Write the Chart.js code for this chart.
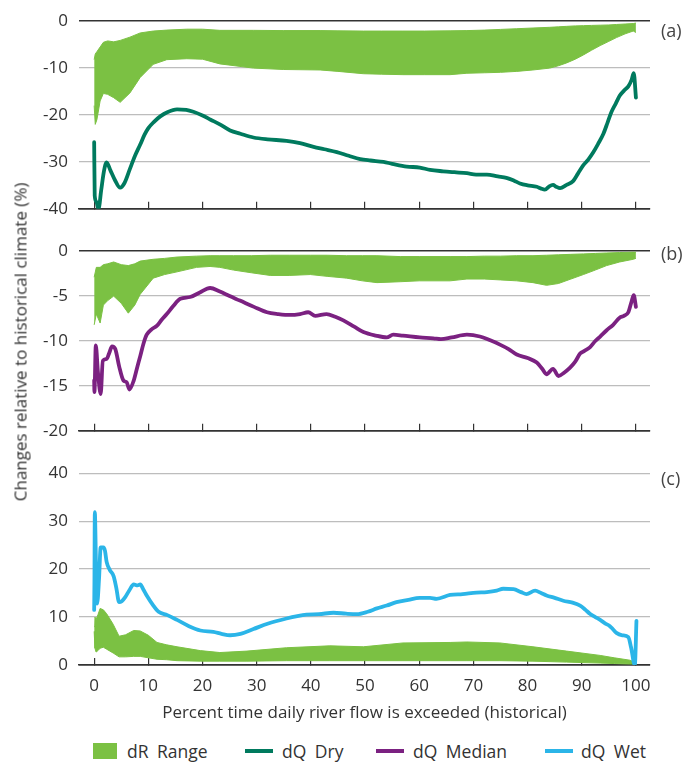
<!DOCTYPE html>
<html>
<head>
<meta charset="utf-8">
<script src="https://cdn.jsdelivr.net/npm/chart.js@4/dist/chart.umd.min.js"></script>
<style>
  html, body { margin: 0; padding: 0; background: #fff; }
  body { width: 686px; height: 762px; position: relative; overflow: hidden; font-family: 'Open Sans', 'Noto Sans', sans-serif; color: #333; }
  canvas { position: absolute; left: 0; display: block; }
  .tag { position: absolute; left: 661px; font-size: 18px; line-height: 20px; color: #444; }
  #ytitle { position: absolute; left: 20px; top: 342px; transform: translate(-50%, -50%) rotate(-90deg); white-space: nowrap; font-size: 17px; }
  .leg { position: absolute; top: 740px; font-size: 17.5px; line-height: 22px; word-spacing: 4px; white-space: nowrap; }
  .swatch { position: absolute; top: 743px; left: 93px; width: 24px; height: 16px; background: #7bc143; }
  .mark { position: absolute; top: 749px; height: 4px; width: 28px; }
</style>
</head>
<body>
<canvas id="chartA" width="686" height="230" style="top:0"></canvas>
<canvas id="chartB" width="686" height="222" style="top:230px"></canvas>
<canvas id="chartC" width="686" height="280" style="top:452px"></canvas>

<div class="tag" style="top:20px">(a)</div>
<div class="tag" style="top:243px">(b)</div>
<div class="tag" style="top:468px">(c)</div>
<div id="ytitle">Changes relative to historical climate (%)</div>

<div class="swatch"></div>
<div class="leg" style="left:127px">dR Range</div>
<div class="mark" style="left:245px; background:#007a5e"></div>
<div class="leg" style="left:282px">dQ Dry</div>
<div class="mark" style="left:376px; background:#7b2181"></div>
<div class="leg" style="left:413px">dQ Median</div>
<div class="mark" style="left:545px; background:#2bb5e8"></div>
<div class="leg" style="left:581px">dQ Wet</div>

<script>
// tick labels
const xTicks = [0, 10, 20, 30, 40, 50, 60, 70, 80, 90, 100];
const yTicksA = [-40, -30, -20, -10, 0];
const yTicksB = [-20, -15, -10, -5, 0];
const yTicksC = [0, 10, 20, 30, 40];

// (a) dQ Dry
const dryX = [0, 0.1, 0.4, 0.8, 1.3, 1.8, 2.3, 3.0, 3.8, 4.8, 5.6, 6.6, 7.5, 8.5, 9.3, 10, 11, 12.2, 13.5, 15.3, 17, 18.3, 20, 21.5, 23.2, 25.1, 27, 29.4, 32, 35.5, 38, 40.5, 42.5, 44.8, 47, 49.1, 51, 53.4, 55, 57.7, 60.1, 62, 64.4, 66.5, 68.8, 70.5, 72.5, 74.5, 76.1, 77.5, 78.6, 80, 81.7, 82.5, 83.2, 84, 84.7, 85.3, 86, 87.2, 88.4, 89.3, 90.3, 91.2, 92.1, 93, 94, 94.8, 95.5, 96.3, 97, 97.8, 98.6, 99.2, 99.6, 100];
const dryY = [-25.8, -37.2, -38.5, -40, -36, -32, -30.1, -31.8, -33.8, -35.5, -34.5, -31.5, -28.8, -26.3, -24.2, -22.8, -21.5, -20.3, -19.4, -18.8, -18.9, -19.3, -20.1, -21.0, -22, -23.3, -24.0, -24.8, -25.2, -25.5, -26.0, -26.8, -27.3, -27.9, -28.7, -29.4, -29.7, -30.0, -30.4, -31.0, -31.2, -31.7, -32.0, -32.2, -32.4, -32.7, -32.7, -33.1, -33.4, -34.0, -34.6, -35.0, -35.3, -35.7, -35.9, -35.2, -34.9, -35.3, -35.6, -34.9, -34.1, -32.5, -30.7, -29.5, -28.0, -26.2, -24.0, -21.5, -19.3, -17.5, -15.9, -14.8, -13.9, -12.5, -11.1, -16.3];

// (a) dR Range
const rangeAX = [0, 0.2, 0.5, 1.1, 1.7, 2.5, 3.6, 4.8, 6.6, 8.5, 10.9, 13.4, 17.1, 20, 23.2, 29.4, 35, 41.7, 45, 49.7, 53, 57, 61, 65.7, 68.8, 72, 75, 78, 81, 84.1, 85.7, 87.2, 88.8, 90.3, 91.8, 93.4, 95, 96.4, 98, 99.5, 100];
const rangeAHigh = [-8.2, -7.0, -6.5, -5.5, -4.5, -4.2, -4.4, -4.1, -3.4, -2.5, -2.1, -1.9, -1.7, -1.7, -1.95, -1.95, -2.0, -2.0, -2.05, -2.1, -2.1, -2.1, -2.1, -2.05, -2.0, -1.9, -1.75, -1.6, -1.45, -1.3, -1.2, -1.1, -1.0, -0.95, -0.9, -0.85, -0.8, -0.7, -0.6, -0.5, -0.4];
const rangeALow = [-18, -22, -21, -17, -15.4, -15.6, -16.3, -17.3, -15.3, -12.0, -9.2, -8.2, -8.0, -8.1, -9.1, -10.0, -10.3, -10.4, -10.7, -11.2, -11.3, -11.4, -11.4, -11.4, -11.1, -11.0, -10.9, -10.7, -10.4, -10.0, -9.5, -8.9, -8.1, -7.2, -6.2, -5.2, -4.3, -3.5, -2.7, -2.1, -2.4];

// (b) dQ Median
const medX = [0, 0.05, 0.3, 0.7, 1.2, 1.6, 2.3, 2.8, 3.3, 3.9, 4.6, 5.4, 6.0, 6.5, 7.3, 8.0, 8.5, 9.1, 9.7, 10.6, 11.6, 12.5, 13.4, 14.6, 15.9, 17.7, 19.5, 21.4, 23.2, 25, 26.9, 29.5, 31.9, 34, 36.2, 38, 39.5, 40.8, 42.9, 44.5, 46, 48, 49.7, 52, 54, 55.2, 57, 60.1, 62.6, 64, 66, 68.8, 71.2, 73, 74.9, 76.5, 78, 80, 81.7, 82.7, 83.5, 84.7, 85.7, 86.8, 87.8, 88.8, 89.7, 90.5, 91.5, 92.5, 93.4, 94.6, 95.8, 97, 97.8, 98.6, 99.2, 99.6, 100];
const medY = [-14.4, -15.7, -10.5, -13.5, -15.9, -12.2, -12.0, -11.3, -10.6, -10.9, -12.8, -14.4, -14.6, -15.4, -14.4, -12.8, -11.7, -10.3, -9.3, -8.7, -8.3, -7.6, -7.0, -6.1, -5.3, -5.1, -4.6, -4.1, -4.5, -5.0, -5.5, -6.2, -6.8, -7.0, -7.1, -7.0, -6.8, -7.2, -7.0, -7.3, -7.7, -8.4, -9.0, -9.4, -9.6, -9.3, -9.4, -9.6, -9.7, -9.8, -9.6, -9.3, -9.5, -9.9, -10.4, -10.9, -11.5, -11.9, -12.4, -13.1, -13.7, -13.1, -13.9, -13.5, -13.0, -12.3, -11.4, -11.1, -10.7, -10.0, -9.5, -8.8, -8.2, -7.4, -7.2, -6.8, -5.6, -4.9, -6.2];

// (b) dR Range
const rangeBX = [0, 0.4, 1.1, 1.7, 2.5, 3.6, 5.0, 6.3, 7.5, 8.5, 10.9, 13, 15.3, 18.9, 21.4, 23.2, 25.7, 29, 32.5, 36, 39.9, 43, 46.6, 49.5, 52.2, 56.5, 60, 65.7, 68.8, 72, 75, 78, 81, 83.5, 85.7, 88, 90.3, 92.5, 94.6, 97, 99.5, 100];
const rangeBHigh = [-2.9, -1.8, -1.8, -1.5, -1.4, -1.2, -1.5, -1.6, -1.4, -1.1, -0.9, -0.8, -0.65, -0.55, -0.5, -0.5, -0.5, -0.5, -0.45, -0.45, -0.45, -0.45, -0.5, -0.5, -0.5, -0.6, -0.6, -0.6, -0.6, -0.55, -0.55, -0.5, -0.5, -0.45, -0.4, -0.35, -0.3, -0.25, -0.2, -0.15, -0.1, -0.1];
const rangeBLow = [-8.2, -7.0, -8.0, -6.0, -5.5, -5.0, -5.8, -6.9, -6.0, -4.8, -3.0, -2.6, -2.3, -1.8, -1.7, -1.8, -2.1, -2.4, -2.7, -2.7, -2.6, -2.8, -3.0, -3.3, -3.5, -3.4, -3.3, -3.3, -3.1, -3.1, -3.2, -3.3, -3.5, -3.8, -3.6, -3.1, -2.6, -2.1, -1.6, -1.2, -0.9, -0.8];

// (c) dQ Wet
const wetX = [0, 0.05, 0.12, 0.35, 0.55, 0.9, 1.2, 1.7, 2.0, 2.3, 2.9, 3.6, 4.1, 4.6, 5.1, 5.7, 6.5, 7.3, 8.0, 8.5, 9.1, 9.7, 10.8, 11.9, 13.5, 15.3, 17.5, 19.6, 22, 23.5, 25.1, 27, 29.4, 32, 35.5, 37.5, 39.2, 41.5, 44.2, 46.5, 48.5, 50.5, 52.2, 54, 55.8, 58, 60.1, 62, 63.2, 65.7, 68, 70.6, 72.5, 74.3, 75.5, 77.4, 78.8, 79.8, 81.4, 82.5, 83.5, 85, 86.6, 88.3, 89.7, 90.7, 91.5, 92.5, 93.4, 94.3, 95.2, 95.8, 96.4, 97.5, 98.6, 99.1, 99.8, 100.1];
const wetY = [11.5, 17.5, 31.9, 20, 12.8, 18, 24.5, 24.5, 23.8, 21.5, 19.8, 18.5, 16, 13.1, 13.3, 14.1, 15.6, 16.8, 16.6, 16.8, 15.7, 14.5, 12.6, 11.1, 10.4, 9.4, 8.1, 7.2, 6.9, 6.5, 6.2, 6.5, 7.5, 8.6, 9.7, 10.2, 10.5, 10.6, 10.9, 10.7, 10.6, 11.1, 11.8, 12.4, 13.1, 13.6, 14.0, 14.0, 13.8, 14.6, 14.8, 15.1, 15.2, 15.5, 15.9, 15.8, 15.2, 14.8, 15.5, 15.0, 14.5, 14.0, 13.4, 13.0, 12.4, 11.5, 10.7, 10.0, 9.4, 8.7, 8.1, 7.4, 6.7, 6.2, 5.8, 3.7, 0, 9.2];

// (c) dR Range
const rangeCX = [0, 0.15, 0.35, 0.7, 1.1, 1.7, 2.3, 3.5, 4.6, 5.8, 7.3, 8.5, 10, 11.6, 13.4, 15.3, 19.6, 23.2, 28.2, 35.5, 43.5, 49.7, 57, 65.7, 68.8, 74.9, 81, 87.2, 93.4, 96, 98.9, 100];
const rangeCHigh = [8.0, 10.0, 9.5, 10.5, 11.8, 11.5, 10.7, 8.5, 6.0, 6.3, 7.2, 7.1, 6.2, 4.7, 4.2, 3.8, 3.0, 2.6, 2.9, 3.6, 4.0, 3.8, 4.6, 4.7, 4.8, 4.6, 3.8, 2.9, 2.0, 1.5, 1.0, 0.5];
const rangeCLow = [7.0, 3.5, 2.7, 3.0, 3.5, 3.7, 3.3, 2.5, 1.7, 1.7, 1.8, 1.8, 1.5, 1.2, 1.1, 0.9, 0.8, 0.8, 0.8, 0.9, 0.9, 0.9, 0.9, 0.9, 0.9, 0.9, 0.8, 0.6, 0.4, 0.3, 0.2, 0.2];

const FONT = "'Open Sans', 'Noto Sans', sans-serif";
const INK = '#333333';
const GRID = '#bdbdbd';
const RANGE_GREEN = '#7bc143';
const DRY = '#007a5e';
const MEDIAN = '#7b2181';
const WET = '#2bb5e8';

function pts(xs, ys) {
    return xs.map((x, i) => ({ x: x, y: ys[i] }));
}

function bandSets(xs, high, low) {
    return [
        { data: pts(xs, high), borderColor: RANGE_GREEN, borderWidth: 1, backgroundColor: RANGE_GREEN, pointRadius: 0, fill: false, tension: 0, order: 2 },
        { data: pts(xs, low), borderColor: RANGE_GREEN, borderWidth: 1, backgroundColor: RANGE_GREEN, pointRadius: 0, fill: '-1', tension: 0, order: 2 }
    ];
}

function lineSet(xs, ys, color) {
    return {
        data: pts(xs, ys), borderColor: color, borderWidth: 3.8, pointRadius: 0, fill: false,
        cubicInterpolationMode: 'monotone', borderJoinStyle: 'round', borderCapStyle: 'round', order: 1
    };
}

function makeChart(id, datasets, yMin, yMax, yTicks, o) {
    return new Chart(document.getElementById(id), {
        type: 'line',
        data: { datasets: datasets },
        options: {
            responsive: false,
            animation: false,
            layout: { padding: { top: o.top, right: 36, left: 0, bottom: 0 } },
            plugins: { legend: { display: false }, tooltip: { enabled: false } },
            scales: {
                x: {
                    type: 'linear', min: -2.8, max: 102.6,
                    afterBuildTicks: s => { s.ticks = xTicks.map(v => ({ value: v })); },
                    afterFit: s => { s.height = o.xHeight; },
                    ticks: { display: o.labels, color: INK, padding: 18, font: { family: FONT, size: 17 } },
                    grid: { drawOnChartArea: false, drawTicks: true, tickLength: -7, color: INK, lineWidth: 1.2 },
                    border: { display: true, color: INK, width: 1.6 },
                    title: {
                        display: o.labels, text: 'Percent time daily river flow is exceeded (historical)',
                        color: INK, font: { family: FONT, size: 17 }, padding: { top: 0, bottom: 9 }
                    }
                },
                y: {
                    min: yMin, max: yMax,
                    afterBuildTicks: s => { s.ticks = yTicks.map(v => ({ value: v })); },
                    afterFit: s => { s.width = 79; },
                    ticks: { color: INK, padding: 11, font: { family: FONT, size: 17 } },
                    grid: {
                        drawTicks: false,
                        color: c => (c.tick.value === yMin || (o.darkTop && c.tick.value === yMax)) ? INK : GRID,
                        lineWidth: c => (c.tick.value === yMin || (o.darkTop && c.tick.value === yMax)) ? 1.6 : 1.3
                    },
                    border: { display: false }
                }
            }
        }
    });
}

makeChart('chartA', [...bandSets(rangeAX, rangeAHigh, rangeALow), lineSet(dryX, dryY, DRY)],
    -40, 0, yTicksA, { top: 21, xHeight: 10, labels: false, darkTop: true });
makeChart('chartB', [...bandSets(rangeBX, rangeBHigh, rangeBLow), lineSet(medX, medY, MEDIAN)],
    -20, 0, yTicksB, { top: 14, xHeight: 10, labels: false, darkTop: true });
makeChart('chartC', [...bandSets(rangeCX, rangeCHigh, rangeCLow), lineSet(wetX, wetY, WET)],
    0, 40, yTicksC, { top: 15, xHeight: 67, labels: true, darkTop: false });
</script>
</body>
</html>
